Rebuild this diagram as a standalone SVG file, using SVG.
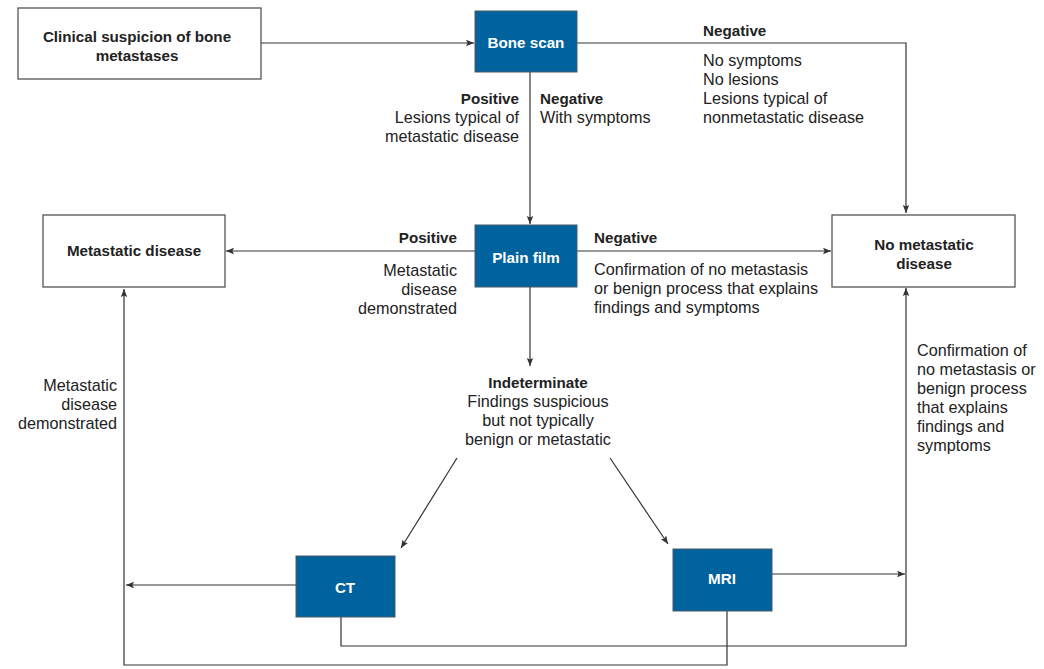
<svg xmlns="http://www.w3.org/2000/svg" width="1044" height="669" viewBox="0 0 1044 669">
<style>
.box{fill:#fff;stroke:#555;stroke-width:1.3}
.blue{fill:#00639e;stroke:#4a5a66;stroke-width:1}
.t{font-family:"Liberation Sans",Arial,sans-serif;font-size:16.2px;fill:#222}
.b{font-weight:bold;font-size:15.2px}
.w{fill:#fff;font-weight:bold;font-size:15.2px}
.c{text-anchor:middle}
.r{text-anchor:end}
.ln{fill:none;stroke:#333;stroke-width:1.2}
</style>
<defs>
<marker id="ah" viewBox="0 0 10 10" refX="10" refY="5" markerWidth="8" markerHeight="8" markerUnits="userSpaceOnUse" orient="auto">
<path d="M0,1 L10,5 L0,9 L2,5 Z" fill="#333"/>
</marker>
</defs>
<rect width="1044" height="669" fill="#fff"/>
<g id="connectors">
<line class="ln" x1="261" y1="43" x2="474" y2="43" marker-end="url(#ah)"/>
<polyline class="ln" points="577,43 906,43 906,213" marker-end="url(#ah)"/>
<line class="ln" x1="530" y1="72" x2="530" y2="224" marker-end="url(#ah)"/>
<line class="ln" x1="475" y1="251" x2="226" y2="251" marker-end="url(#ah)"/>
<line class="ln" x1="577" y1="251" x2="831" y2="251" marker-end="url(#ah)"/>
<line class="ln" x1="530" y1="287" x2="530" y2="366" marker-end="url(#ah)"/>
<line class="ln" x1="457" y1="458" x2="401" y2="548" marker-end="url(#ah)"/>
<line class="ln" x1="610" y1="458" x2="668" y2="544" marker-end="url(#ah)"/>
<line class="ln" x1="296" y1="585" x2="126" y2="585" marker-end="url(#ah)"/>
<line class="ln" x1="772" y1="574" x2="905" y2="574" marker-end="url(#ah)"/>
<polyline class="ln" points="341,617 341,646 906,646 906,288" marker-end="url(#ah)"/>
<polyline class="ln" points="727,611 727,665 124,665 124,289" marker-end="url(#ah)"/>
</g>
<g id="clinical">
<rect class="box" x="18" y="8" width="243" height="71"/>
<text class="t b c" x="137" y="42">Clinical suspicion of bone</text>
<text class="t b c" x="137" y="61">metastases</text>
</g>
<g id="bonescan">
<rect class="blue" x="475" y="11" width="102" height="61"/>
<text class="t w c" x="526" y="48">Bone scan</text>
</g>
<g id="plainfilm">
<rect class="blue" x="475" y="225" width="102" height="62"/>
<text class="t w c" x="526" y="263">Plain film</text>
</g>
<g id="metastatic">
<rect class="box" x="43" y="215" width="182" height="72"/>
<text class="t b c" x="134" y="256">Metastatic disease</text>
</g>
<g id="nometastatic">
<rect class="box" x="832" y="215" width="183" height="72"/>
<text class="t b c" x="924" y="250">No metastatic</text>
<text class="t b c" x="924" y="269">disease</text>
</g>
<g id="ct">
<rect class="blue" x="296" y="556" width="99" height="61"/>
<text class="t w c" x="345" y="593">CT</text>
</g>
<g id="mri">
<rect class="blue" x="673" y="549" width="99" height="62"/>
<text class="t w c" x="722" y="584">MRI</text>
</g>
<g id="labels">
<text class="t b" x="703" y="36">Negative</text>
<text class="t" x="703" y="66">No symptoms</text>
<text class="t" x="703" y="85">No lesions</text>
<text class="t" x="703" y="104">Lesions typical of</text>
<text class="t" x="703" y="123">nonmetastatic disease</text>
<text class="t b r" x="519" y="104">Positive</text>
<text class="t r" x="519" y="123">Lesions typical of</text>
<text class="t r" x="519" y="142">metastatic disease</text>
<text class="t b" x="540" y="104">Negative</text>
<text class="t" x="540" y="123">With symptoms</text>
<text class="t b r" x="457" y="243">Positive</text>
<text class="t r" x="457" y="276">Metastatic</text>
<text class="t r" x="457" y="295">disease</text>
<text class="t r" x="457" y="314">demonstrated</text>
<text class="t b" x="594" y="243">Negative</text>
<text class="t" x="594" y="275">Confirmation of no metastasis</text>
<text class="t" x="594" y="294">or benign process that explains</text>
<text class="t" x="594" y="313">findings and symptoms</text>
<text class="t b c" x="538" y="388">Indeterminate</text>
<text class="t c" x="538" y="407">Findings suspicious</text>
<text class="t c" x="538" y="426">but not typically</text>
<text class="t c" x="538" y="445">benign or metastatic</text>
<text class="t r" x="117" y="391">Metastatic</text>
<text class="t r" x="117" y="410">disease</text>
<text class="t r" x="117" y="429">demonstrated</text>
<text class="t" x="917" y="356">Confirmation of</text>
<text class="t" x="917" y="375">no metastasis or</text>
<text class="t" x="917" y="394">benign process</text>
<text class="t" x="917" y="413">that explains</text>
<text class="t" x="917" y="432">findings and</text>
<text class="t" x="917" y="451">symptoms</text>
</g>
</svg>
